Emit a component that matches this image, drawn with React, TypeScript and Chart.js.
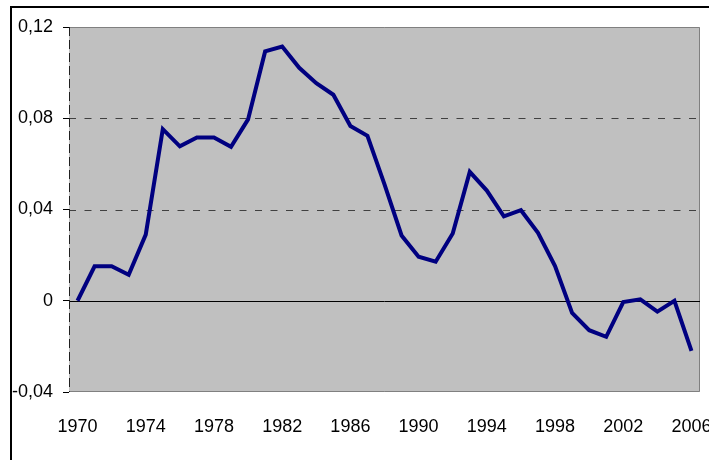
import React, { useEffect, useRef } from "react";
import { Chart, registerables } from "chart.js";

Chart.register(...registerables);

const years = [
  "1970", "1971", "1972", "1973", "1974", "1975", "1976", "1977", "1978", "1979",
  "1980", "1981", "1982", "1983", "1984", "1985", "1986", "1987", "1988", "1989",
  "1990", "1991", "1992", "1993", "1994", "1995", "1996", "1997", "1998", "1999",
  "2000", "2001", "2002", "2003", "2004", "2005", "2006",
];

const rates = [
  0.0, 0.0151, 0.0151, 0.0114, 0.029, 0.0752, 0.0677, 0.0716, 0.0716, 0.0675,
  0.0795, 0.1093, 0.1114, 0.1021, 0.0954, 0.0903, 0.0766, 0.0723, 0.051, 0.0286,
  0.0193, 0.0171, 0.0295, 0.0565, 0.0483, 0.037, 0.0397, 0.0298, 0.0152, -0.0053,
  -0.0129, -0.0158, -0.0006, 0.0006, -0.0048, 0.0, -0.022,
];

const yTickValues = [-0.04, 0, 0.04, 0.08, 0.12];
const yTickLabels = ["-0,04", "0", "0,04", "0,08", "0,12"];
const dashedGridValues = [0.04, 0.08];
const xLabelEvery = 4;

const FONT_FAMILY = '"Liberation Sans", Arial, sans-serif';
const FONT_SIZE = 18;

const decorPlugin = {
  id: "decor",
  beforeDraw(chart: any) {
    const { ctx, chartArea: a, scales } = chart;
    const y = scales.y;
    ctx.save();
    // outer frame
    ctx.strokeStyle = "#000000";
    ctx.lineWidth = 2;
    ctx.strokeRect(11, 7, chart.width + 20, chart.height + 20);
    // plot background
    ctx.fillStyle = "#C0C0C0";
    ctx.fillRect(a.left, a.top, a.right - a.left, a.bottom - a.top);
    // dashed grid lines
    ctx.lineWidth = 1;
    ctx.strokeStyle = "#404040";
    ctx.setLineDash([7, 8.5]);
    for (const v of dashedGridValues) {
      const py = Math.round(y.getPixelForValue(v)) + 0.5;
      ctx.beginPath();
      ctx.moveTo(a.left, py);
      ctx.lineTo(a.right, py);
      ctx.stroke();
    }
    ctx.setLineDash([]);
    // plot border (top, right, bottom)
    ctx.strokeStyle = "#808080";
    ctx.beginPath();
    ctx.moveTo(a.left, a.top + 0.5);
    ctx.lineTo(a.right - 0.5, a.top + 0.5);
    ctx.lineTo(a.right - 0.5, a.bottom - 0.5);
    ctx.lineTo(a.left, a.bottom - 0.5);
    ctx.stroke();
    // zero line
    const zy = Math.round(y.getPixelForValue(0)) + 0.5;
    ctx.strokeStyle = "#000000";
    ctx.beginPath();
    ctx.moveTo(a.left, zy);
    ctx.lineTo(a.right, zy);
    ctx.stroke();
    // dashed value axis
    ctx.strokeStyle = "#202020";
    ctx.setLineDash([9, 4]);
    ctx.beginPath();
    ctx.moveTo(a.left + 0.5, a.top);
    ctx.lineTo(a.left + 0.5, a.bottom);
    ctx.stroke();
    ctx.restore();
  },
};

export default function App() {
  const canvasRef = useRef<HTMLCanvasElement | null>(null);

  useEffect(() => {
    if (!canvasRef.current) return;
    const chart = new Chart(canvasRef.current, {
      type: "line",
      data: {
        labels: years,
        datasets: [
          {
            data: rates,
            borderColor: "#000080",
            borderWidth: 4,
            pointRadius: 0,
            tension: 0,
            fill: false,
            borderJoinStyle: "miter",
          },
        ],
      },
      options: {
        animation: false,
        responsive: false,
        layout: { padding: { top: 27, right: 9, left: 0, bottom: 0 } },
        plugins: { legend: { display: false }, tooltip: { enabled: false } },
        scales: {
          x: {
            type: "category",
            offset: true,
            grid: { display: false },
            border: { display: false },
            ticks: {
              autoSkip: false,
              maxRotation: 0,
              minRotation: 0,
              padding: 16,
              color: "#000000",
              font: { family: FONT_FAMILY, size: FONT_SIZE },
              callback: (_v: any, i: number) => (i % xLabelEvery === 0 ? years[i] : ""),
            },
            afterFit: (s: any) => {
              s.height = 68;
              s.paddingLeft = 0;
              s.paddingRight = 0;
            },
          },
          y: {
            type: "linear",
            min: -0.04,
            max: 0.12,
            grid: {
              drawOnChartArea: false,
              drawTicks: true,
              tickLength: 6,
              tickColor: "#000000",
              color: "#000000",
            },
            border: { display: false },
            afterBuildTicks: (s: any) => {
              s.ticks = yTickValues.map((v) => ({ value: v }));
            },
            ticks: {
              padding: 10,
              color: "#000000",
              font: { family: FONT_FAMILY, size: FONT_SIZE },
              callback: (_v: any, i: number) => yTickLabels[i],
            },
            afterFit: (s: any) => {
              s.width = 69;
              s.paddingTop = 0;
              s.paddingBottom = 0;
            },
          },
        },
      },
      plugins: [decorPlugin],
    } as any);
    return () => chart.destroy();
  }, []);

  return (
    <div style={{ position: "absolute", left: 0, top: 0, width: 709, height: 460, background: "#ffffff" }}>
      <canvas ref={canvasRef} width={709} height={460} style={{ display: "block" }} />
    </div>
  );
}
